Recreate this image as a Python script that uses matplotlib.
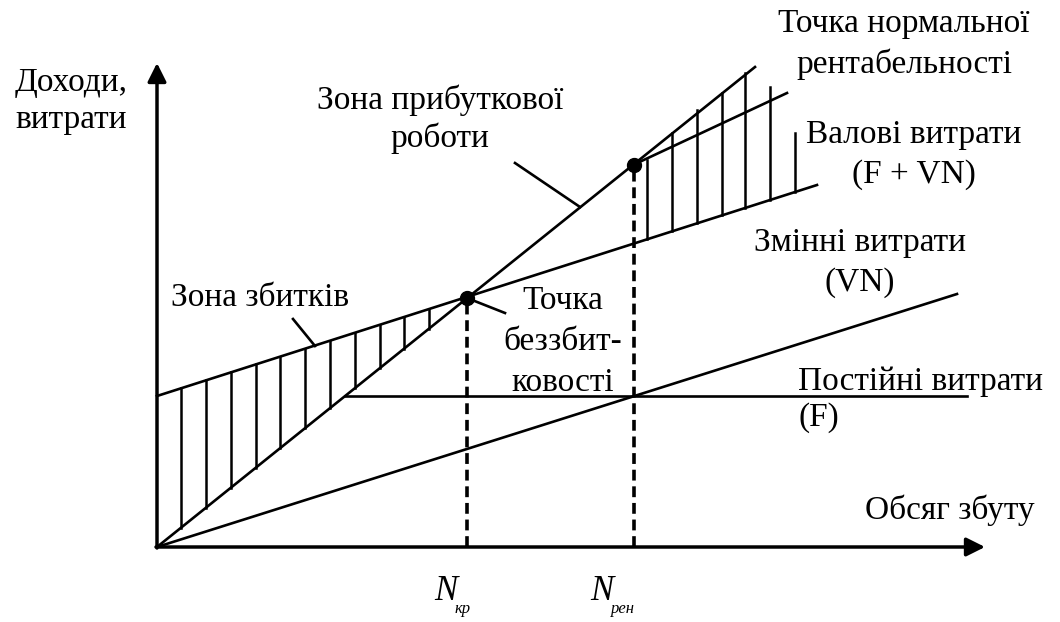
import numpy as np
import matplotlib
matplotlib.use("Agg")
import matplotlib.pyplot as plt

plt.rcParams['font.family'] = ['Liberation Serif', 'DejaVu Serif']

# lines of the break-even chart (volume, money), units
revenue_x = [0, 598]
revenue_y = [0, 480]
total_x = [0, 660]
total_y = [151, 362]
variable_x = [0, 800]
variable_y = [0, 253]
fixed_x = [188, 810]
fixed_y = [151, 151]
normal_x = [476, 630]
normal_y = [382, 454]

n_kr = 310
n_ren = 477
point_kr = 249
point_ren = 382

# hatching
loss_hatch_x = [24, 49, 74, 99, 123, 148, 173, 198, 223, 247, 272]
profit_hatch_x = [490, 515, 540, 565, 588, 613, 638]
profit_hatch_top = [387, 414, 437, 454, 474, 460, 414]

x_max = 828
y_max = 484

fig = plt.figure(figsize=(10.6, 6.22), dpi=100)
ax = fig.add_axes([0, 0, 1, 1])
ax.set_xlim(-157, 903)
ax.set_ylim(-75, 547)
ax.axis('off')

lw = 1.9
k = 'black'

# axes with arrows
ax.annotate('', xy=(0, y_max), xytext=(0, -1),
            arrowprops=dict(arrowstyle='-|>', lw=2.5, color=k, mutation_scale=28, shrinkA=0, shrinkB=0))
ax.annotate('', xy=(x_max, 0), xytext=(-1, 0),
            arrowprops=dict(arrowstyle='-|>', lw=2.5, color=k, mutation_scale=28, shrinkA=0, shrinkB=0))

# main lines
ax.plot(revenue_x, revenue_y, color=k, lw=lw)
ax.plot(total_x, total_y, color=k, lw=lw)
ax.plot(variable_x, variable_y, color=k, lw=lw)
ax.plot(fixed_x, fixed_y, color=k, lw=lw)
ax.plot(normal_x, normal_y, color=k, lw=lw)

# loss zone hatching
for hx in loss_hatch_x:
    lo = np.interp(hx, revenue_x, revenue_y)
    hi = np.interp(hx, total_x, total_y)
    ax.plot([hx, hx], [lo, hi], color=k, lw=1.8)

# profit zone hatching
for hx, top in zip(profit_hatch_x, profit_hatch_top):
    lo = np.interp(hx, total_x, total_y)
    ax.plot([hx, hx], [lo, top], color=k, lw=1.8)

# dashed verticals
ax.plot([n_kr, n_kr], [0, point_kr], color=k, lw=2.6, linestyle=(0, (3, 1.6)))
ax.plot([n_ren, n_ren], [0, point_ren], color=k, lw=2.6, linestyle=(0, (3, 1.6)))

# points
ax.plot([n_kr, n_ren], [point_kr, point_ren], 'o', color=k, ms=10)

# leader lines
ax.plot([136, 158], [228, 201], color=k, lw=lw)
ax.plot([358, 423], [384, 340], color=k, lw=lw)
ax.plot([n_kr, 348], [point_kr, 234], color=k, lw=lw)

fs = 24
ax.text(-142, 446, 'Доходи,\nвитрати', fontsize=fs, ha='left', va='center', linespacing=1.28)
ax.text(283, 428, 'Зона прибуткової\nроботи', fontsize=fs, ha='center', va='center', linespacing=1.28)
ax.text(747, 503, 'Точка нормальної\nрентабельності', fontsize=fs, ha='center', va='center', linespacing=1.4)
ax.text(757, 392, 'Валові витрати\n(F + VN)', fontsize=fs, ha='center', va='center', linespacing=1.38)
ax.text(703, 284, 'Змінні витрати\n(VN)', fontsize=fs, ha='center', va='center', linespacing=1.38)
ax.text(103, 249, 'Зона збитків', fontsize=fs, ha='center', va='center')
ax.text(406, 205, 'Точка\nбеззбит-\nковості', fontsize=fs, ha='center', va='center', linespacing=1.45)
ax.text(641, 157, 'Постійні витрати', fontsize=fs, ha='left', va='baseline')
ax.text(641, 121, '(F)', fontsize=fs, ha='left', va='baseline')
ax.text(793, 37, 'Обсяг збуту', fontsize=fs, ha='center', va='center')

# N labels
ax.text(300, -45, 'N', fontsize=25, style='italic', ha='right', va='center')
ax.text(298, -62, 'кр', fontsize=12, style='italic', ha='left', va='center')
ax.text(456, -45, 'N', fontsize=25, style='italic', ha='right', va='center')
ax.text(454, -62, 'рен', fontsize=12, style='italic', ha='left', va='center')

fig.savefig('out.png', dpi=100, facecolor='white')
